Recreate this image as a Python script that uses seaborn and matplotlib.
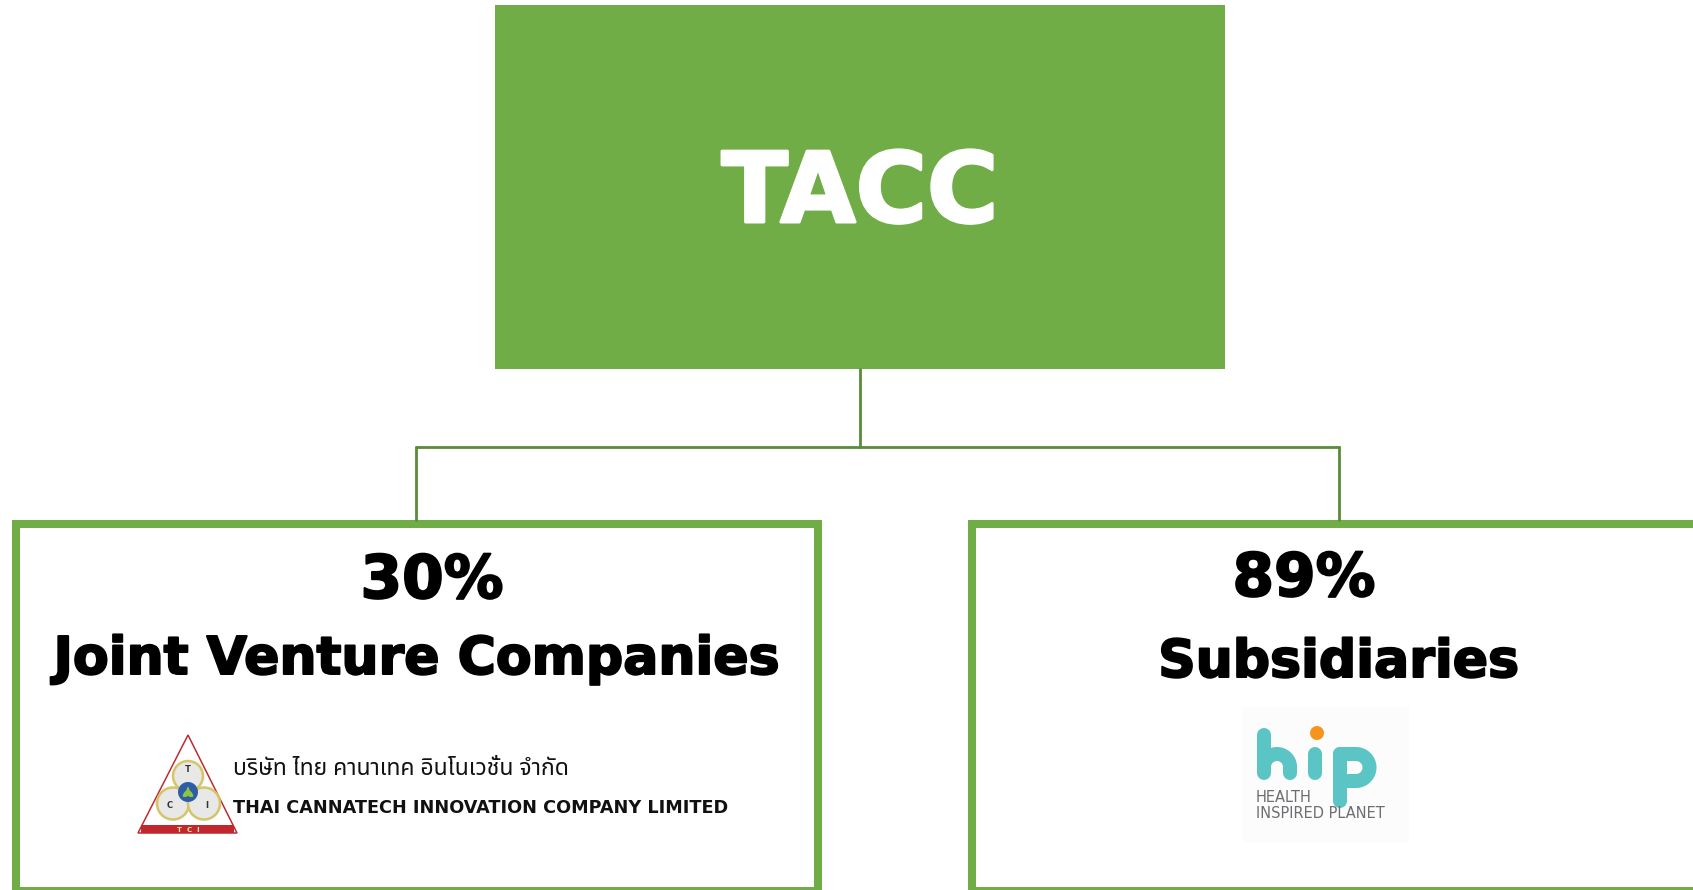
import numpy as np
import matplotlib
matplotlib.use("Agg")
import matplotlib.pyplot as plt
import matplotlib.patheffects as pe
import seaborn as sns
from matplotlib.patches import Rectangle, Circle, Polygon, Ellipse

# chart content
top_label = "TACC"
shares = ["30%", "89%"]
groups = ["Joint Venture Companies", "Subsidiaries"]
jv_name_th = "บริษัท ไทย คานาเทค อินโนเวชั่น จำกัด"
jv_name_en = "THAI CANNATECH INNOVATION COMPANY LIMITED"
sub_name = ["HEALTH", "INSPIRED PLANET"]

sns.set_theme(style="white")
plt.rcParams["font.family"] = ["DejaVu Sans"]

GREEN = "#70AD47"
LINE = "#5B8C3A"
PX = 0.72  # points per pixel at dpi 100

fig = plt.figure(figsize=(16.93, 8.90), dpi=100)
ax = fig.add_axes([0, 0, 1, 1])
ax.set_xlim(0, 1693)
ax.set_ylim(890, 0)
ax.axis("off")


# heavy headline text: bold + thin outline of the same colour
def heavy(x, y, s, size, color="black", stroke=2.0):
    ax.text(x, y, s, ha="center", va="baseline", color=color, fontsize=size,
            fontweight="bold", family="DejaVu Sans",
            path_effects=[pe.withStroke(linewidth=stroke * PX, foreground=color)])


# top box
ax.add_patch(Rectangle((495, 5), 730, 364, facecolor=GREEN, edgecolor="none"))
heavy(860, 222, top_label, 70, color="white", stroke=3.0)

# connectors
ax.plot([860, 860], [369, 447], color=LINE, lw=2.8 * PX)
ax.plot([416, 1339], [447, 447], color=LINE, lw=2.8 * PX)
ax.plot([416, 416], [447, 520], color=LINE, lw=2.8 * PX)
ax.plot([1339, 1339], [447, 520], color=LINE, lw=2.8 * PX)

# lower boxes
ax.add_patch(Rectangle((16, 524), 802, 367, facecolor="white", edgecolor=GREEN, lw=8 * PX))
ax.add_patch(Rectangle((972, 524), 740, 367, facecolor="white", edgecolor=GREEN, lw=8 * PX))

heavy(432, 598, shares[0], 43)
heavy(417, 674, groups[0], 37.5)
heavy(1304, 596, shares[1], 43)
heavy(1339, 677, groups[1], 37.5)

# TCI logo
RED = "#C1272D"
GOLD = "#D4C46A"
ax.add_patch(Polygon([[188, 735], [138, 833], [237, 833]], closed=True,
                     facecolor="white", edgecolor=RED, lw=1.5 * PX))
ax.add_patch(Rectangle((141, 825), 93, 8, facecolor=RED, edgecolor="none"))
ax.text(188, 829.5, "T  C  I", ha="center", va="center", color="#F5E6A0",
        fontsize=5, fontweight="bold")
for cx, cy, r in [(188, 776, 15), (173, 803.5, 16), (204, 803.5, 16)]:
    ax.add_patch(Circle((cx, cy), r, facecolor="#E8E8E6", edgecolor=GOLD, lw=2.5 * PX))
ax.add_patch(Circle((188, 792), 10, facecolor="#2E5DA8", edgecolor="none"))
for ang, ln in [(0, 9), (-40, 7.5), (40, 7.5), (-80, 5.5), (80, 5.5)]:
    t = np.deg2rad(ang)
    ax.add_patch(Ellipse((188 + np.sin(t) * ln / 2, 796 - np.cos(t) * ln / 2), 3, ln,
                         angle=-ang, facecolor="#8DC63F", edgecolor="none"))
ax.text(188, 770, "T", ha="center", va="center", fontsize=6, color="#333333", fontweight="bold")
ax.text(170, 806, "C", ha="center", va="center", fontsize=6, color="#333333", fontweight="bold")
ax.text(207, 806, "I", ha="center", va="center", fontsize=6, color="#333333", fontweight="bold")

ax.text(233, 769, jv_name_th, ha="left", va="center", color="#111111", fontsize=16.5,
        family=["Noto Sans Thai", "Noto Sans Thai Looped", "Loma", "Garuda", "DejaVu Sans"])
ax.text(233, 808, jv_name_en, ha="left", va="center", color="#111111",
        fontsize=12.7, fontweight="bold")

# hip logo
TEAL = "#5BC4C5"
ax.add_patch(Rectangle((1242, 707), 167, 135, facecolor="#FCFCFC", edgecolor="none"))
kw = dict(color=TEAL, lw=14 * PX, solid_capstyle="round")
ax.plot([1264, 1264], [735, 773], **kw)
t = np.linspace(np.pi, 2 * np.pi, 40)
ax.plot(1277 + 13 * np.cos(t), 767 + 13 * np.sin(t), color=TEAL, lw=14 * PX, solid_capstyle="butt")
ax.plot([1290, 1290], [767, 773], **kw)
ax.plot([1315, 1315], [754, 773], **kw)
ax.add_patch(Circle((1317, 733), 7, facecolor="#F7941D", edgecolor="none"))
ax.plot([1340, 1340], [754, 801], **kw)
t = np.linspace(-np.pi / 2, np.pi / 2, 40)
bx = np.concatenate([[1340], 1356 + 13.5 * np.cos(t), [1340]])
by = np.concatenate([[754], 767.5 + 13.5 * np.sin(t), [781]])
ax.plot(bx, by, color=TEAL, lw=14 * PX, solid_capstyle="round", solid_joinstyle="round")
ax.text(1256, 798, sub_name[0], ha="left", va="center", color="#6D6E71",
        fontsize=10.5, family=["Liberation Sans Narrow", "DejaVu Sans"])
ax.text(1256, 814, sub_name[1], ha="left", va="center", color="#6D6E71",
        fontsize=10.5, family=["Liberation Sans Narrow", "DejaVu Sans"])

fig.savefig("out.png", dpi=100)
